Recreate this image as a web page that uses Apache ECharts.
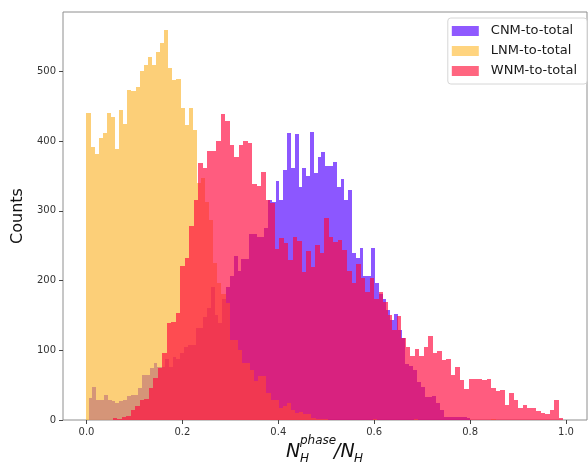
<!DOCTYPE html>
<html>
<head>
<meta charset="utf-8">
<script src="https://cdn.jsdelivr.net/npm/echarts@6/dist/echarts.min.js"></script>
<style>
html, body { margin: 0; padding: 0; background: #fff; }
#chart { width: 588px; height: 464px; }
</style>
</head>
<body>
<div id="chart"></div>
<script>
// each histogram: 100 bins between its own min and max
var seriesNames = ['CNM-to-total', 'LNM-to-total', 'WNM-to-total'];
var binStart = [0.0045, 0.0, 0.055];
var binWidth = [0.00796, 0.00853, 0.00939];

var cnmCounts = [32, 47, 28, 28, 36, 28, 27, 25, 27, 28,
  35, 36, 36, 46, 65, 65, 75, 82, 76, 76,
  87, 76, 91, 87, 96, 104, 108, 108, 132, 132,
  148, 160, 191, 150, 139, 173, 190, 206, 235, 213,
  231, 231, 267, 267, 262, 262, 275, 315, 312, 343,
  315, 358, 411, 361, 410, 334, 361, 350, 413, 354,
  377, 384, 364, 364, 370, 334, 345, 316, 330, 239,
  232, 247, 206, 206, 247, 196, 180, 173, 158, 144,
  152, 129, 118, 80, 77, 72, 55, 48, 33, 33,
  34, 25, 15, 5, 5, 4, 4, 4, 4, 3];

var lnmCounts = [440, 391, 382, 404, 412, 440, 434, 389, 445, 424,
  473, 472, 478, 501, 509, 521, 509, 527, 541, 559,
  505, 488, 489, 448, 423, 448, 416, 340, 347, 313,
  287, 225, 197, 180, 168, 115, 115, 101, 82, 82,
  72, 56, 63, 63, 39, 29, 29, 17, 20, 25,
  15, 10, 11, 9, 8, 3, 2, 1, 1, 0,
  0, 0, 0, 0, 0, 0, 0, 0, 0, 0,
  1, 0, 0, 0, 0, 0, 0, 0, 0, 0,
  1, 0, 0, 0, 0, 0, 0, 0, 0, 0,
  0, 0, 0, 0, 0, 0, 0, 0, 0, 1];

var wnmCounts = [3, 1, 4, 6, 15, 20, 28, 30, 46, 60,
  75, 96, 139, 141, 153, 221, 232, 278, 316, 368,
  362, 385, 385, 400, 439, 428, 394, 377, 395, 400,
  397, 338, 335, 356, 316, 311, 245, 261, 254, 229,
  263, 256, 212, 242, 219, 251, 239, 289, 262, 255,
  258, 244, 213, 196, 224, 203, 183, 203, 173, 183,
  169, 150, 129, 149, 117, 105, 92, 102, 92, 105,
  121, 96, 99, 86, 87, 64, 76, 58, 45, 59,
  59, 59, 57, 59, 46, 41, 43, 22, 39, 29,
  17, 22, 17, 17, 13, 10, 8, 15, 28, 3];

var xTicks = [0, 0.2, 0.4, 0.6, 0.8, 1.0];
var yTicks = [0, 100, 200, 300, 400, 500];

var baseColors = ['rgb(80,0,255)', 'rgb(250,182,50)', 'rgb(255,8,60)'];
var legendColors = ['#8f59ff', '#ffd47f', '#ff6680'];
var alpha = 0.66;

var allCounts = [cnmCounts, lnmCounts, wnmCounts];

function toBins(k) {
  return allCounts[k].map(function (c, i) {
    return [binStart[k] + i * binWidth[k], c];
  });
}

function histItem(k) {
  return function (params, api) {
    var x0 = api.value(0);
    var v = api.value(1);
    var p0 = api.coord([x0, 0]);
    var p1 = api.coord([x0 + binWidth[k], v]);
    var left = Math.round(p0[0]);
    var right = Math.round(p1[0]);
    var top = Math.round(p1[1]);
    var bottom = Math.round(p0[1]);
    return {
      type: 'rect',
      shape: { x: left, y: top, width: right - left, height: bottom - top },
      style: { fill: baseColors[k], opacity: alpha }
    };
  };
}

var chart = echarts.init(document.getElementById('chart'));

var series = seriesNames.map(function (name, k) {
  return {
    name: name,
    type: 'custom',
    renderItem: histItem(k),
    encode: { x: 0, y: 1 },
    itemStyle: { color: legendColors[k] },
    data: toBins(k),
    animation: false,
    clip: true
  };
});

var option = {
  backgroundColor: '#fff',
  animation: false,
  grid: {
    left: 63, right: 1, top: 12, bottom: 44,
    show: true, borderColor: '#8e8e8e', borderWidth: 1
  },
  legend: {
    orient: 'vertical',
    right: 1,
    top: 18,
    padding: [6, 10, 6, 4],
    backgroundColor: '#fff',
    borderColor: '#d6d6d6',
    borderWidth: 1,
    borderRadius: 3,
    itemWidth: 27,
    itemHeight: 10,
    itemGap: 6,
    icon: 'rect',
    textStyle: { fontFamily: 'DejaVu Sans', fontSize: 13, color: '#1a1a1a', lineHeight: 14, padding: [0, 0, 0, 7] },
    data: seriesNames.map(function (n, k) {
      return { name: n, itemStyle: { color: legendColors[k], opacity: 1 } };
    })
  },
  xAxis: {
    type: 'value',
    min: -0.049,
    max: 1.0438,
    splitLine: { show: false },
    axisLine: { show: false, onZero: false },
    axisTick: { show: true, length: 4, lineStyle: { color: '#444' }, customValues: xTicks },
    axisLabel: {
      fontFamily: 'DejaVu Sans', fontSize: 10, color: '#333', margin: 7,
      customValues: xTicks,
      formatter: function (v) { return v.toFixed(1); }
    }
  },
  yAxis: {
    type: 'value',
    min: 0,
    max: 585,
    name: 'Counts',
    nameLocation: 'middle',
    nameRotate: 90,
    nameGap: 30,
    nameTextStyle: { fontFamily: 'DejaVu Sans', fontSize: 16, color: '#111' },
    splitLine: { show: false },
    axisLine: { show: false, onZero: false },
    axisTick: { show: true, length: 4, lineStyle: { color: '#444' }, customValues: yTicks },
    axisLabel: {
      fontFamily: 'DejaVu Sans', fontSize: 10, color: '#333', margin: 7,
      customValues: yTicks
    }
  },
  graphic: [
    { type: 'text', left: 286, top: 443, style: { text: 'N', font: 'italic 19px DejaVu Sans', fill: '#111' } },
    { type: 'text', left: 300, top: 435, style: { text: 'phase', font: 'italic 12px DejaVu Sans', fill: '#111' } },
    { type: 'text', left: 300, top: 453, style: { text: 'H', font: 'italic 12px DejaVu Sans', fill: '#111' } },
    { type: 'text', left: 334, top: 443, style: { text: '/N', font: 'italic 19px DejaVu Sans', fill: '#111' } },
    { type: 'text', left: 354, top: 453, style: { text: 'H', font: 'italic 12px DejaVu Sans', fill: '#111' } }
  ],
  series: series
};

chart.setOption(option);
</script>
</body>
</html>
